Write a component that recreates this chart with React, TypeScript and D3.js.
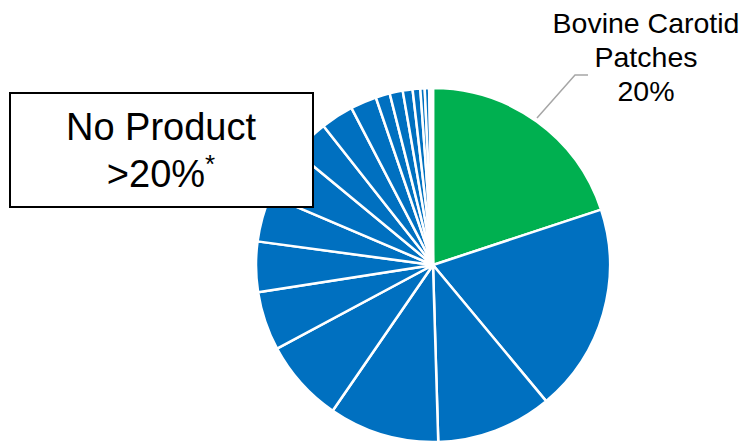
import React from "react";
import * as d3 from "d3";

const categories = [
  "Bovine Carotid Patches",
  "No Product",
  "Product C",
  "Product D",
  "Product E",
  "Product F",
  "Product G",
  "Product H",
  "Product I",
  "Product J",
  "Product K",
  "Product L",
  "Product M",
  "Product N",
  "Product O",
  "Product P",
  "Product Q",
  "Product R",
  "Product S",
  "Product T",
];
const values = [
  20, 19.1, 10.6, 10.1, 7.6, 5.4, 4.6, 4.3, 4.6, 3.4, 3.0, 2.4, 1.3, 1.2, 0.9,
  0.7, 0.4, 0.4, 0.2, 0.15,
];
const highlight = "Bovine Carotid Patches";
const labelLines = ["Bovine Carotid", "Patches", "20%"];
const boxLines = ["No Product", ">20%"];

const W = 743;
const H = 442;
const cx = 433;
const cy = 265;
const R = 177;
const GREEN = "#00B050";
const BLUE = "#0070C0";
const FONT = "'Liberation Sans', Arial, sans-serif";

export default function App() {
  const data = categories.map((c, i) => ({ name: c, value: values[i] }));
  const pie = d3
    .pie<{ name: string; value: number }>()
    .sort(null)
    .value((d) => d.value);
  const arcs = pie(data);
  const arc = d3
    .arc<d3.PieArcDatum<{ name: string; value: number }>>()
    .innerRadius(0)
    .outerRadius(R);

  return (
    <svg
      width={W}
      height={H}
      style={{ position: "absolute", left: 0, top: 0, background: "#fff" }}
    >
      <g transform={`translate(${cx},${cy})`}>
        {arcs.map((a, i) => (
          <path
            key={i}
            d={arc(a) || ""}
            fill={a.data.name === highlight ? GREEN : BLUE}
            stroke="#fff"
            strokeWidth={2.5}
            strokeLinejoin="round"
          />
        ))}
      </g>
      <polyline
        points="537,118 575,75 588,75"
        fill="none"
        stroke="#A6A6A6"
        strokeWidth={1.5}
      />
      <g fontFamily={FONT} fontSize={28.5} fill="#000" textAnchor="middle">
        {labelLines.map((t, i) => (
          <text key={i} x={646} y={33 + i * 34}>
            {t}
          </text>
        ))}
      </g>
      <rect
        x={10}
        y={93}
        width={303}
        height={114}
        fill="#fff"
        stroke="#000"
        strokeWidth={2}
      />
      <g fontFamily={FONT} fontSize={38} fill="#000" textAnchor="middle">
        <text x={161} y={140}>
          {boxLines[0]}
        </text>
        <text x={161} y={187}>
          {boxLines[1]}
          <tspan fontSize={26} dy={-14}>
            *
          </tspan>
        </text>
      </g>
    </svg>
  );
}
